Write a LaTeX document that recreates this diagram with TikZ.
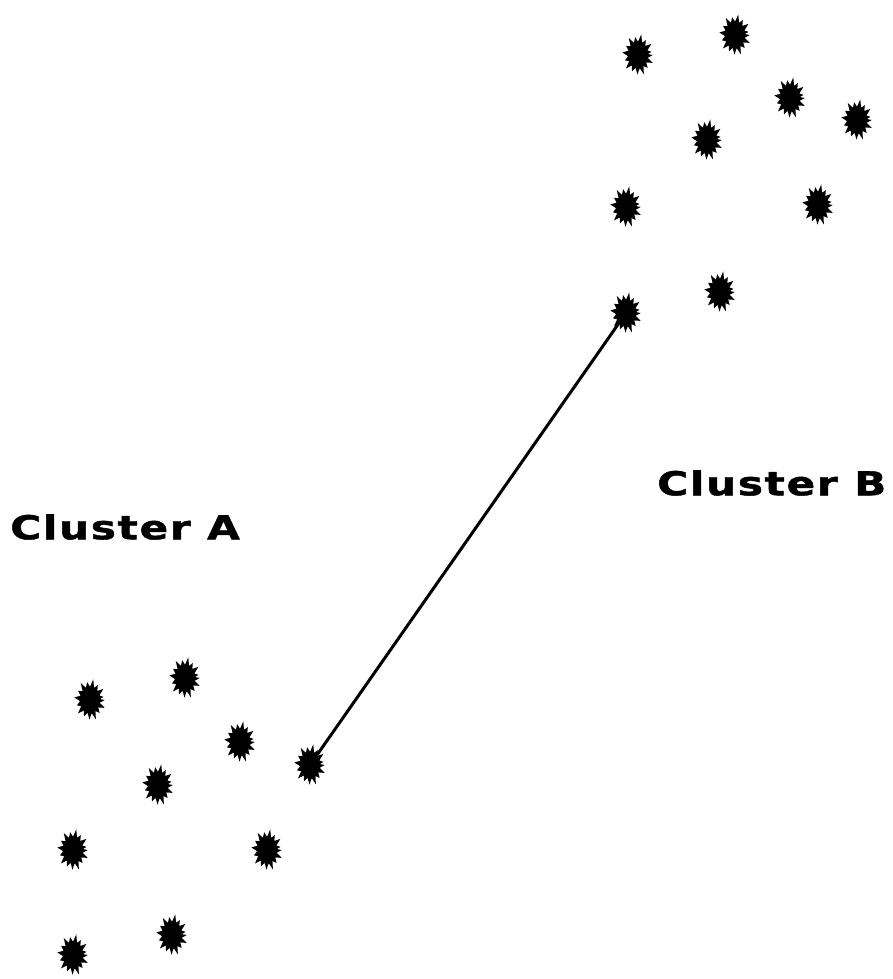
\documentclass[tikz,border=0pt]{standalone}
\usepackage{fontspec}
\setmainfont{DejaVu Sans}
\newfontfamily\labfont[LetterSpace=4,FakeBold=1.2]{DejaVu Sans Bold}
\begin{document}
\begin{tikzpicture}[x=1pt,y=-1pt,
  blob/.pic={
    \fill[black,xscale=1.05,yscale=1.4]
      (0:14) -- (12:9.5) -- (22:15) -- (34:9.5) -- (45:13) -- (57:9.5) -- (68:15) -- (80:9.5)
      -- (92:14) -- (104:9.5) -- (116:13) -- (128:9.5) -- (140:15) -- (152:9.5) -- (163:13)
      -- (175:9.5) -- (187:15) -- (199:9.5) -- (210:13) -- (222:9.5) -- (234:15) -- (246:9.5)
      -- (258:13) -- (270:9.5) -- (282:15) -- (294:9.5) -- (305:13) -- (317:9.5) -- (328:15)
      -- (340:9.5) -- (350:13) -- (356:9.5) -- cycle;
  },
  lab/.style={font=\labfont\fontsize{33}{38}\selectfont, xscale=1.28, inner sep=0}
]
\useasboundingbox (0,0) rectangle (893,979);
% connector
\coordinate (a4) at (310,765);
\coordinate (b9) at (626,313);
\draw[line width=3pt] (a4) -- (b9);
% cluster B
\foreach \n/\x/\y in {b1/638/55, b2/735/35, b3/790/98, b4/857/120, b5/707/140,
  b6/626/207, b7/818/205, b8/720/292} {
  \coordinate (\n) at (\x,\y);
  \pic at (\n) {blob};
}
\pic at (b9) {blob};
% cluster A
\foreach \n/\x/\y in {a1/90/700, a2/185/678, a3/240/742, a5/158/785,
  a6/73/850, a7/267/850, a8/172/935, a9/73/955} {
  \coordinate (\n) at (\x,\y);
  \pic at (\n) {blob};
}
\pic at (a4) {blob};
% labels
\node[lab, anchor=west] (la) at (10,527) {Cluster A};
\node[lab, anchor=west] (lb) at (657,483) {Cluster B};
\end{tikzpicture}
\end{document}
